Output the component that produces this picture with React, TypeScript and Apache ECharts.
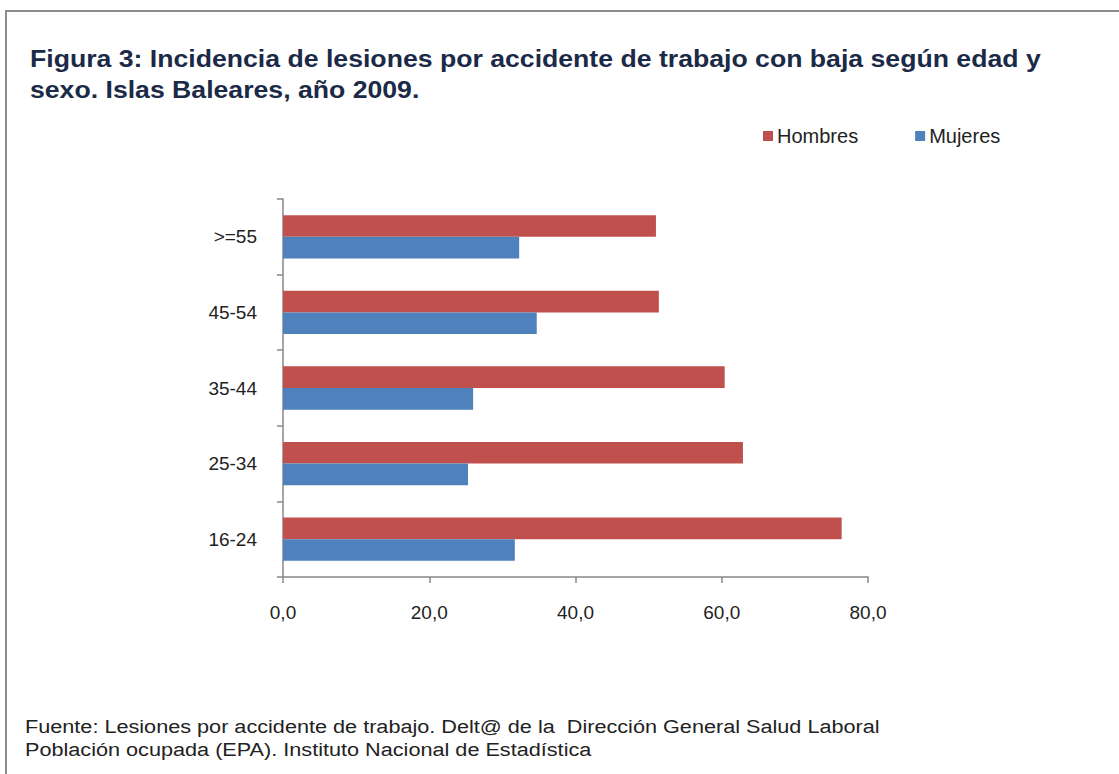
import React, { useEffect, useRef } from "react";
import * as echarts from "echarts";

const categories = ["16-24", "25-34", "35-44", "45-54", ">=55"];
const hombres = [76.4, 62.9, 60.4, 51.4, 51.0];
const mujeres = [31.7, 25.3, 26.0, 34.7, 32.3];
const xTicks = [0, 20, 40, 60, 80];
const titleLines = [
  "Figura 3: Incidencia de lesiones por accidente de trabajo con baja según edad y",
  "sexo. Islas Baleares, año 2009.",
];
const footerLines = [
  "Fuente: Lesiones por accidente de trabajo. Delt@ de la  Dirección General Salud Laboral",
  "Población ocupada (EPA). Instituto Nacional de Estadística",
];

const FONT = "'Liberation Sans', Arial, sans-serif";

export default function App() {
  const ref = useRef<HTMLDivElement>(null);
  useEffect(() => {
    if (!ref.current) return;
    const chart = echarts.init(ref.current, undefined, { renderer: "svg" });
    chart.setOption({
      animation: false,
      backgroundColor: "#ffffff",
      textStyle: { fontFamily: FONT },
      graphic: [
        {
          type: "rect",
          shape: { x: 6, y: 11, width: 1200, height: 900 },
          style: { fill: "none", stroke: "#8c8c8c", lineWidth: 2 },
          silent: true,
        },
        {
          type: "text",
          x: 30,
          y: 43,
          scaleX: 1.11,
          style: {
            text: titleLines.join("\n"),
            font: `bold 24px ${FONT}`,
            fill: "#1B2A47",
            lineHeight: 31,
            verticalAlign: "top",
          },
        },
        {
          type: "text",
          x: 25,
          y: 715,
          scaleX: 1.14,
          style: {
            text: footerLines.join("\n"),
            font: `19px ${FONT}`,
            fill: "#222222",
            lineHeight: 23,
            verticalAlign: "top",
          },
        },
      ],
      legend: {
        data: ["Hombres", "Mujeres"],
        left: 758,
        top: 121,
        icon: "rect",
        itemWidth: 10,
        itemHeight: 10,
        itemGap: 57,
        textStyle: { fontSize: 20, color: "#222", fontFamily: FONT, padding: [0, 0, 0, -1] },
      },
      grid: { left: 283, right: 251, top: 199, bottom: 197, containLabel: false },
      xAxis: {
        type: "value",
        min: xTicks[0],
        max: xTicks[xTicks.length - 1],
        interval: 20,
        axisLine: { show: true, lineStyle: { color: "#888", width: 1.5 } },
        axisTick: { show: true, length: 6, lineStyle: { color: "#888", width: 1.5 } },
        splitLine: { show: false },
        axisLabel: {
          margin: 26,
          fontSize: 19,
          color: "#222",
          fontFamily: FONT,
          formatter: (v: number) => v.toFixed(1).replace(".", ","),
        },
      },
      yAxis: {
        type: "category",
        data: categories,
        axisLine: { show: true, lineStyle: { color: "#888", width: 1.5 } },
        axisTick: { show: true, length: 6, lineStyle: { color: "#888", width: 1.5 } },
        axisLabel: { margin: 26, fontSize: 19, color: "#222", fontFamily: FONT },
      },
      series: [
        {
          name: "Hombres",
          type: "bar",
          data: hombres,
          barGap: "0%",
          barCategoryGap: "42.7%",
          itemStyle: { color: "#C0504D" },
        },
        {
          name: "Mujeres",
          type: "bar",
          data: mujeres,
          barGap: "0%",
          barCategoryGap: "42.7%",
          itemStyle: { color: "#4F81BD" },
        },
      ],
    });
    return () => chart.dispose();
  }, []);
  return (
    <div
      ref={ref}
      style={{ position: "fixed", left: 0, top: 0, width: 1119, height: 774 }}
    />
  );
}
